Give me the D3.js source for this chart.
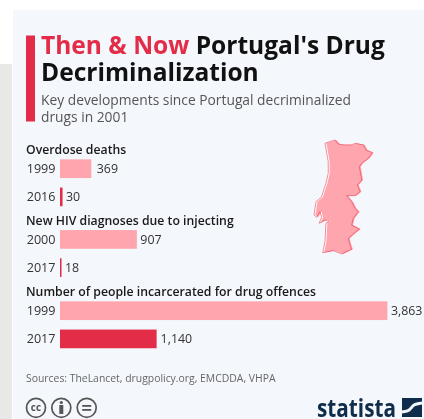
<!DOCTYPE html>
<html><head><meta charset="utf-8">
<script src="https://cdn.jsdelivr.net/npm/d3@7"></script>
<style>html,body{margin:0;padding:0;background:#fff}svg{display:block;filter:blur(0.35px)}text{font-family:"Open Sans",sans-serif}</style>
</head><body><div id="chart"></div>
<script>
const titleAccent = "Then & Now";
const titleLines = ["Portugal's Drug", "Decriminalization"];
const subtitleLines = ["Key developments since Portugal decriminalized", "drugs in 2001"];
const sourceText = "Sources: TheLancet, drugpolicy.org, EMCDDA, VHPA";
const groupNames = ["Overdose deaths", "New HIV diagnoses due to injecting", "Number of people incarcerated for drug offences"];
const thenYears = ["1999", "2000", "1999"];
const nowYears = ["2016", "2017", "2017"];
const thenValues = [369, 907, 3863];
const nowValues = [30, 18, 1140];
const portugalLon = [-8.85,-8.29,-8.11,-7.83,-7.37,-7.18,-6.72,-6.57,-6.22,-6.44,-6.81,-6.94,-6.81,-7.05,-6.90,-7.18,-7.65,-7.37,-7.18,-7.00,-7.28,-7.37,-6.94,-7.28,-7.55,-7.46,-7.37,-7.92,-8.39,-8.98,-8.85,-8.80,-8.61,-8.85,-9.17,-9.04,-9.13,-9.31,-9.46,-9.35,-9.04,-8.80,-8.67,-8.67];
const portugalLat = [41.97,42.12,41.94,41.90,41.90,41.97,41.90,41.67,41.55,41.30,41.07,40.92,40.32,40.10,39.80,39.62,39.62,39.35,39.05,38.90,38.60,38.30,38.12,37.90,37.70,37.40,37.21,37.00,37.15,37.06,37.55,38.38,38.45,38.53,38.38,38.65,38.90,38.65,38.75,39.35,39.57,40.17,40.62,41.15];

const RED = "#e32d48", PINK = "#ffa5ad", DARK = "#111", GREY = "#555", NAVY = "#0f2d4a";
const W = 424, H = 419;
const svg = d3.select("#chart").append("svg").attr("width", W).attr("height", H);

svg.append("rect").attr("x",0).attr("y",64).attr("width",12).attr("height",H-64).attr("fill","#e8e8e6");
svg.append("rect").attr("x",13).attr("y",10).attr("width",W-13).attr("height",H-10).attr("fill","#f4f7fb");

// Header
svg.append("rect").attr("x",26).attr("y",35.5).attr("width",9).attr("height",86).attr("fill",RED);
const t1 = svg.append("text").attr("x",41).attr("y",54).attr("font-size",24.55).attr("font-weight",700).attr("fill",DARK);
t1.append("tspan").attr("fill",RED).text(titleAccent);
t1.append("tspan").text(" " + titleLines[0]);
svg.append("text").attr("x",41).attr("y",81).attr("font-size",24.55).attr("font-weight",700).attr("fill",DARK).text(titleLines[1]);
subtitleLines.forEach((s,i)=>svg.append("text").attr("x",41).attr("y",105+i*17).attr("font-size",13.8).attr("fill",GREY).text(s));

// Bars
const x = d3.scaleLinear().domain([0,3863]).range([60,387.4]);
const groupY = d3.scaleOrdinal().domain(groupNames).range([168.7,239.4,310.7]);
const rowStep = 28.2, barH = 18.7;
const fmt = d3.format(",");

const g = svg.selectAll("g.grp").data(groupNames.map((n,i)=>({n,i}))).join("g").attr("class","grp");
g.append("text").attr("x",26).attr("y",d=>groupY(d.n)-14.6).attr("font-size",12.25).attr("font-weight",600).attr("fill","#1a1a1a").text(d=>d.n);
[[thenYears,thenValues,PINK,0],[nowYears,nowValues,RED,1]].forEach(([yrs,vals,col,row])=>{
  const cy = d => groupY(d.n)+row*rowStep;
  g.append("text").attr("x",55.5).attr("y",cy).attr("dy","0.36em").attr("text-anchor","end").attr("font-size",12.6).attr("fill","#333").text(d=>yrs[d.i]);
  g.append("rect").attr("x",x(0)).attr("y",d=>cy(d)-barH/2).attr("width",d=>x(vals[d.i])-x(0)).attr("height",barH).attr("fill",col);
  g.append("text").attr("x",d=>{const v=vals[d.i];return x(v)+(v===369?5.5:v===1140?4:3.5)}).attr("y",cy).attr("dy","0.36em").attr("font-size",12.4).attr("fill","#333").text(d=>fmt(vals[d.i]));
});

// Map
const lonS = d3.scaleLinear().domain([-9.5,-6.2]).range([313.3,372.7]);
const latS = d3.scaleLinear().domain([42.15,37]).range([139.3,254]);
const outline = d3.line().x(d=>lonS(d[0])).y(d=>latS(d[1])).curve(d3.curveLinearClosed)(portugalLon.map((l,i)=>[l,portugalLat[i]]));
svg.append("path").attr("d",outline).attr("fill","#fff");
svg.append("path").attr("d",outline).attr("transform","translate(1.4,0)").attr("fill",PINK);
svg.append("path").attr("d",outline).attr("fill","none").attr("stroke",RED).attr("stroke-width",0.8).attr("stroke-opacity",0.65);

// Source
svg.append("text").attr("x",26).attr("y",382).attr("font-size",10.4).attr("fill","#666").text(sourceText);

// CC icons
const icons = [36,61.3,86.7];
icons.forEach(cx=>svg.append("circle").attr("cx",cx).attr("cy",407.8).attr("r",9.5).attr("fill","none").attr("stroke","#555").attr("stroke-width",1.7));
svg.append("text").attr("x",icons[0]).attr("y",411.3).attr("text-anchor","middle").attr("font-size",10).attr("font-weight",700).attr("fill","#555").text("cc");
svg.append("circle").attr("cx",icons[1]).attr("cy",402.5).attr("r",1.6).attr("fill","#555");
svg.append("rect").attr("x",icons[1]-2).attr("y",405).attr("width",4).attr("height",9).attr("fill","#555");
[-2,2].forEach(d=>svg.append("rect").attr("x",icons[2]-4.5).attr("y",407.8+d-0.8).attr("width",9).attr("height",1.8).attr("fill","#555"));

// Statista logo
svg.append("text").attr("x",396).attr("y",417).attr("text-anchor","end").attr("font-size",25).attr("font-weight",700).attr("fill",NAVY).attr("textLength",79).attr("lengthAdjust","spacingAndGlyphs").text("statista");
svg.append("rect").attr("x",402).attr("y",398).attr("width",20).attr("height",19).attr("fill",NAVY);
svg.append("path").attr("d",d3.line().curve(d3.curveBasis)([[402,412],[410,411],[413,404],[422,403]])).attr("fill","none").attr("stroke","#f4f7fb").attr("stroke-width",3);
</script></body></html>
